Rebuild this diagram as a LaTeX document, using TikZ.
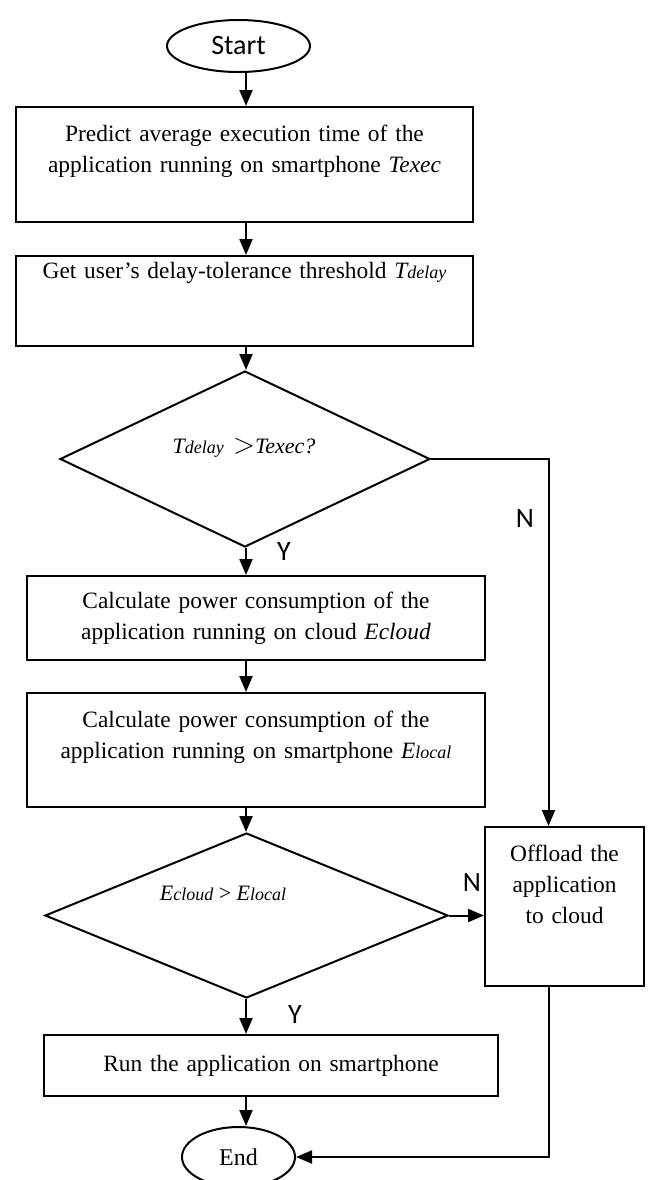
\documentclass[tikz,border=0pt]{standalone}
\usepackage{fontspec}
\setmainfont{Liberation Serif}
\newfontfamily\calibri{Carlito}
\usetikzlibrary{shapes.geometric}
\usetikzlibrary{arrows.meta}
\usetikzlibrary{calc}

\tikzset{
  boite/.style={draw, line width=1pt, rectangle, align=center, inner xsep=4pt, inner ysep=0pt, font=\fontsize{11.7pt}{15.5pt}\selectfont},
  losange/.style={draw, line width=1pt, diamond, inner sep=0pt},
  terminal/.style={draw, line width=1pt, ellipse, inner sep=0pt},
  fleche/.style={line width=1pt, -{Triangle[length=8pt,width=6.5pt]}},
  etiq/.style={font=\calibri\fontsize{14pt}{16pt}\selectfont},
  condition/.style={font=\fontsize{11pt}{13pt}\selectfont\itshape},
}

\begin{document}
\begin{tikzpicture}[x=0.5pt, y=-0.5pt]
    \useasboundingbox (0,0) rectangle (649,1180);
    \coordinate (axe) at (246,0);
    % blocs
    \node[terminal, etiq, minimum width=71.5pt, minimum height=26pt] (debut) at (238.5,46) {Start};
    \node[boite, text width=220.5pt, minimum height=57.5pt] (b1) at (244.5,164.5) {Predict average execution time of the\\ application running on smartphone \textit{Texec}\\ ~};
    \node[boite, text width=220.5pt, minimum height=45pt] (b2) at (244.5,301) {Get user’s delay-tolerance threshold \textit{T{\small delay}}\\ ~\\ ~};
    \node[losange, minimum width=185pt, minimum height=88pt] (q1) at (245,459) {};
    \node[condition] (t1) at (244,448) {T{\small delay} \,{\Large$>$}Texec?};
    \node[boite, text width=221pt, minimum height=42pt] (b3) at (256,618) {Calculate power consumption of the\\ application running on cloud \textit{Ecloud}};
    \node[boite, text width=221pt, minimum height=57pt] (b4) at (256,750) {Calculate power consumption of the\\ application running on smartphone \textit{E{\small local}}\\ ~};
    \node[losange, minimum width=201.5pt, minimum height=82.5pt] (q2) at (246.5,915.5) {};
    \node[condition] (t2) at (223,893) {E{\small cloud} \textup{>} E{\small local}};
    \node[boite, text width=219pt, minimum height=30.5pt] (b5) at (271,1065.5) {Run the application on smartphone};
    \node[boite, text width=71.5pt, minimum height=79.5pt] (off) at (564.5,906.5) {Offload the\\ application\\ to cloud\\[7pt] ~};
    \node[terminal, font=\fontsize{12pt}{14pt}\selectfont, minimum width=56.5pt, minimum height=30pt] (fin) at (238.5,1157) {End};
    % liaisons
    \draw[fleche] (debut.south -| axe) -- (b1.north -| axe);
    \draw[fleche] (b1.south -| axe) -- (b2.north -| axe);
    \draw[fleche] (b2.south -| axe) -- (q1.north -| axe);
    \draw[fleche] (q1.south -| axe) -- (b3.north -| axe);
    \draw[fleche] (b3.south -| axe) -- (b4.north -| axe);
    \draw[fleche] (b4.south -| axe) -- (q2.north -| axe);
    \draw[fleche] (q2.south -| axe) -- (b5.north -| axe);
    \draw[fleche] (b5.south -| axe) -- (fin.north -| axe);
    \draw[fleche] (q1.east) -| ([xshift=-8pt]off.north);
    \draw[fleche] (q2.east) -- (q2.east -| off.west);
    \draw[fleche] ([xshift=-8pt]off.south) |- (fin.east);
    % Y / N
    \node[etiq] (n1) at (525,519) {N};
    \node[etiq] (n2) at (472,883) {N};
    \node[etiq] (y1) at (284,552) {Y};
    \node[etiq] (y2) at (295,1015) {Y};
\end{tikzpicture}
\end{document}
